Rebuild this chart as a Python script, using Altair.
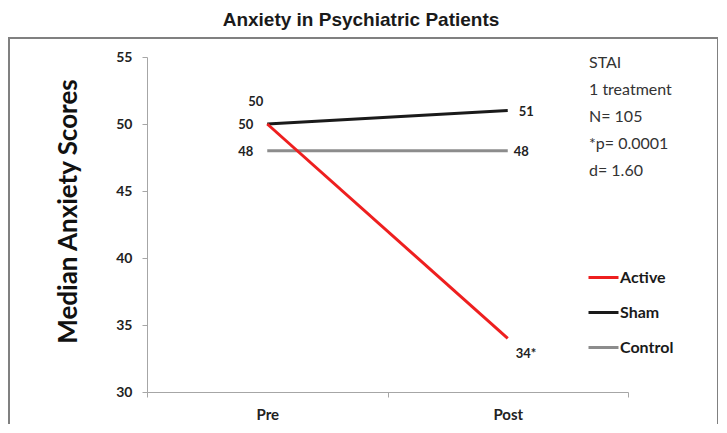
import altair as alt
import pandas as pd

# ---- data ----
phases = ["Pre", "Post"]
series = ["Active", "Sham", "Control"]
active = [50, 34]
sham = [50, 51]
control = [48, 48]
colors = ["#ee1f1f", "#1a1a1a", "#8c8c8c"]

label_series = ["Sham", "Active", "Control", "Sham", "Control", "Active"]
label_phase = ["Pre", "Pre", "Pre", "Post", "Post", "Post"]
label_text = ["50", "50", "48", "51", "48", "34*"]

notes = ["STAI", "1 treatment", "N= 105", "*p= 0.0001", "d= 1.60"]
chart_title = "Anxiety in Psychiatric Patients"
y_title = "Median Anxiety Scores"
y_ticks = [30, 35, 40, 45, 50, 55]

values = {"Active": active, "Sham": sham, "Control": control}
rows = []
for s in series:
    for p, v in zip(phases, values[s]):
        rows.append({"series": s, "phase": p, "score": v})
df = pd.DataFrame(rows)

lab = pd.DataFrame({
    "series": label_series,
    "phase": label_phase,
    "text": label_text,
})
lab["score"] = [values[s][phases.index(p)] for s, p in zip(label_series, label_phase)]
lab["idx"] = range(len(lab))

W, H = 481, 335
FONT = "Lato"

x_enc = alt.X(
    "phase:N", sort=phases, bandPosition=0.5,
    scale=alt.Scale(type="band", domain=phases, paddingInner=0, paddingOuter=0),
    axis=alt.Axis(title=None, labelAngle=0, tickBand="extent", labelFont=FONT,
                  labelFontSize=15, labelFontWeight="bold", labelColor="#222222",
                  labelPadding=10, tickSize=5, domainColor="#a6a6a6",
                  tickColor="#a6a6a6", grid=False),
)
y_enc = alt.Y(
    "score:Q",
    scale=alt.Scale(domain=[30, 55], nice=False, zero=False),
    axis=alt.Axis(title=y_title, values=y_ticks, labelFont=FONT, labelFontSize=14,
                  labelFontWeight="bold", labelColor="#222222", labelPadding=10,
                  tickSize=5, domainColor="#a6a6a6", tickColor="#a6a6a6", grid=False,
                  titleFont=FONT, titleFontSize=26, titleFontWeight="bold",
                  titleColor="#111111", titleAngle=-90, titleX=-79, titleY=154,
                  titleAlign="center", titleBaseline="middle"),
)
color_enc = alt.Color(
    "series:N",
    scale=alt.Scale(domain=series, range=colors),
    legend=alt.Legend(title=None, orient="none", legendX=440, legendY=204,
                      symbolType="stroke", symbolSize=900, symbolStrokeWidth=3,
                      labelFont=FONT, labelFontSize=16, labelFontWeight="bold",
                      labelColor="#1a1a1a", labelOffset=0, rowPadding=10, padding=0),
)

base = alt.Chart(df)
line_layers = [
    base.transform_filter(alt.datum.series == s)
    .mark_line(strokeWidth=3)
    .encode(x=x_enc, y=y_enc, color=color_enc)
    for s in ["Control", "Sham", "Active"]
]

label_styles = [
    ("right", -4, -22),
    ("right", -14, 1),
    ("right", -14, 1),
    ("left", 11, 1),
    ("left", 6, 1),
    ("left", 8, 16),
]
label_layers = []
for i, (al, dx, dy) in enumerate(label_styles):
    label_layers.append(
        alt.Chart(lab).transform_filter(alt.datum.idx == i)
        .mark_text(align=al, baseline="middle", dx=dx, dy=dy, font=FONT,
                   fontSize=13, fontWeight="bold", color="#222222")
        .encode(x=alt.X("phase:N", sort=phases, bandPosition=0.5,
                        scale=alt.Scale(type="band", domain=phases,
                                        paddingInner=0, paddingOuter=0)),
                y=alt.Y("score:Q"), text="text:N")
    )

one = pd.DataFrame({"a": [0]})
border = alt.Chart(one).mark_rect(filled=False, stroke="#808080", strokeWidth=2).encode(
    x=alt.value(-138), x2=alt.value(571), y=alt.value(-19), y2=alt.value(440)
)
title = alt.Chart(one).mark_text(
    text=chart_title, font="Liberation Sans", fontSize=19, fontWeight="bold",
    color="#1a1a1a", align="center", baseline="middle"
).encode(x=alt.value(214), y=alt.value(-37))
note = alt.Chart(one).mark_text(
    text=notes, font=FONT, fontSize=16, color="#333333", align="left",
    baseline="middle", lineHeight=27
).encode(x=alt.value(442), y=alt.value(6))

chart = alt.layer(border, title, note, *line_layers, *label_layers).properties(
    width=W, height=H,
    autosize=alt.AutoSizeParams(type="none"),
    padding={"left": 139, "top": 49, "right": 90, "bottom": 32},
).configure_view(stroke=None)

chart.save("out.html", embed_options={"renderer": "svg", "actions": False})
